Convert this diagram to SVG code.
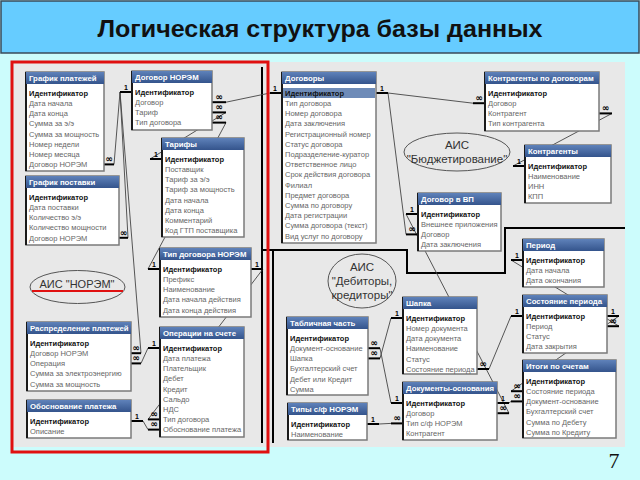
<svg xmlns="http://www.w3.org/2000/svg" width="640" height="480" viewBox="0 0 640 480">
<defs>
<linearGradient id="hg" x1="0" y1="0" x2="0" y2="1"><stop offset="0" stop-color="#5f82ba"/><stop offset="1" stop-color="#34548c"/></linearGradient>
</defs>
<style>
.box{fill:#fff;stroke:#7a7a7a;stroke-width:1.5}
.edge{stroke:#1a1a1a;stroke-width:2}
.hdr{fill:url(#hg)}
.ht{font-family:"Liberation Sans",Arial,sans-serif;font-weight:bold;font-size:7.8px;fill:#fff}
.key{font-family:"Liberation Sans",Arial,sans-serif;font-weight:bold;font-size:7.5px;fill:#111}
.fld{font-family:"Liberation Sans",Arial,sans-serif;font-size:7.5px;fill:#666}
.stub{stroke:#000;stroke-width:2}
.rel{stroke:#444;stroke-width:0.9;fill:none}
.route{stroke:#000;stroke-width:2;fill:none}
.one{font-family:"Liberation Sans",Arial,sans-serif;font-weight:bold;font-size:7px;fill:#000;text-anchor:middle}
.many{font-family:"DejaVu Sans",sans-serif;font-weight:bold;font-size:9px;fill:#000;text-anchor:middle}
.ell{fill:none;stroke:#555;stroke-width:1}
.et{font-family:"Liberation Sans",Arial,sans-serif;font-size:11.5px;fill:#333;text-anchor:middle}
</style>
<rect x="0" y="0" width="640" height="480" fill="#ccfcfc"/>
<rect x="1" y="1" width="638" height="52" fill="#66ccff" stroke="#3a4a5a" stroke-width="1.5"/>
<text x="320" y="37" text-anchor="middle" font-family="Liberation Sans, Arial, sans-serif" font-weight="bold" font-size="24" textLength="445" lengthAdjust="spacingAndGlyphs" fill="#111">Логическая структура базы данных</text>
<rect x="12" y="62" width="613" height="385" fill="#e8e8e8"/>

<g id="connectors">
<path class="route" d="M262,67 V443 M262,250 H407 V273 H505 V228 H625 M273,250 V443"/>
<line class="rel" x1="114" y1="164.4" x2="120" y2="92"/>
<line class="rel" x1="128" y1="237.8" x2="120" y2="92"/>
<line class="rel" x1="141" y1="353.2" x2="120" y2="92"/>
<line class="rel" x1="226" y1="102.2" x2="270" y2="93"/>
<line class="rel" x1="226" y1="112.4" x2="150" y2="159"/>
<line class="rel" x1="226" y1="122.6" x2="148" y2="269"/>
<line class="rel" x1="263" y1="269" x2="148" y2="419.4"/>
<line class="rel" x1="143" y1="421" x2="148" y2="429.6"/>
<line class="rel" x1="141" y1="363.4" x2="148" y2="348"/>
<line class="rel" x1="388" y1="93" x2="473" y2="103.2"/>
<line class="rel" x1="388" y1="93" x2="406" y2="234.4"/>
<line class="rel" x1="612" y1="113.4" x2="513" y2="166"/>
<line class="rel" x1="406" y1="214" x2="509" y2="413.2"/>
<line class="rel" x1="509" y1="403" x2="511" y2="401.4"/>
<line class="rel" x1="511" y1="260" x2="619" y2="326.2"/>
<line class="rel" x1="619" y1="316" x2="511" y2="391.2"/>
<line class="rel" x1="511" y1="316" x2="489" y2="369"/>
<line class="rel" x1="391" y1="318" x2="380" y2="358.4"/>
<line class="rel" x1="391" y1="403" x2="380" y2="348.2"/>
<line class="rel" x1="379" y1="424" x2="391" y2="423.4"/>
<line class="stub" x1="120" y1="92" x2="132" y2="92"/><text class="one" x="126" y="89.5">1</text>
<line class="stub" x1="104" y1="164.4" x2="114" y2="164.4"/><text class="many" x="109" y="162">∞</text>
<line class="stub" x1="119" y1="237.8" x2="128" y2="237.8"/><text class="many" x="123.5" y="235.5">∞</text>
<line class="stub" x1="131" y1="353.2" x2="141" y2="353.2"/><text class="many" x="136" y="351">∞</text>
<line class="stub" x1="131" y1="363.4" x2="141" y2="363.4"/><text class="many" x="136" y="361">∞</text>
<line class="stub" x1="212" y1="102.2" x2="226" y2="102.2"/><text class="many" x="219" y="100">∞</text>
<line class="stub" x1="212" y1="112.4" x2="226" y2="112.4"/><text class="many" x="219" y="110">∞</text>
<line class="stub" x1="212" y1="122.6" x2="226" y2="122.6"/><text class="many" x="219" y="120">∞</text>
<line class="stub" x1="270" y1="93" x2="282" y2="93"/><text class="one" x="275" y="90.5">1</text>
<line class="stub" x1="150" y1="159" x2="162" y2="159"/><text class="one" x="156" y="156.5">1</text>
<line class="stub" x1="148" y1="269" x2="160" y2="269"/><text class="one" x="154" y="266.5">1</text>
<line class="stub" x1="251" y1="269" x2="263" y2="269"/><text class="one" x="257" y="266.5">1</text>
<line class="stub" x1="148" y1="348" x2="160" y2="348"/><text class="one" x="154" y="345.5">1</text>
<line class="stub" x1="148" y1="419.4" x2="160" y2="419.4"/><text class="many" x="154" y="417">∞</text>
<line class="stub" x1="148" y1="429.6" x2="160" y2="429.6"/><text class="many" x="154" y="427.2">∞</text>
<line class="stub" x1="131" y1="421" x2="143" y2="421"/><text class="one" x="137" y="418.5">1</text>
<line class="stub" x1="376" y1="93" x2="388" y2="93"/><text class="one" x="382" y="90.5">1</text>
<line class="stub" x1="473" y1="103.2" x2="485" y2="103.2"/><text class="many" x="479" y="100.8">∞</text>
<line class="stub" x1="599" y1="113.4" x2="612" y2="113.4"/><text class="many" x="605.5" y="111">∞</text>
<line class="stub" x1="513" y1="166" x2="525" y2="166"/><text class="one" x="519" y="163.5">1</text>
<line class="stub" x1="406" y1="214" x2="418" y2="214"/><text class="one" x="412" y="211.5">1</text>
<line class="stub" x1="406" y1="234.4" x2="418" y2="234.4"/><text class="many" x="412" y="232">∞</text>
<line class="stub" x1="497" y1="403" x2="509" y2="403"/><text class="one" x="503" y="400.5">1</text>
<line class="stub" x1="497" y1="413.2" x2="509" y2="413.2"/><text class="many" x="503" y="410.8">∞</text>
<line class="stub" x1="391" y1="403" x2="403" y2="403"/><text class="one" x="397" y="400.5">1</text>
<line class="stub" x1="391" y1="423.4" x2="403" y2="423.4"/><text class="many" x="397" y="421">∞</text>
<line class="stub" x1="511" y1="391.2" x2="523" y2="391.2"/><text class="many" x="517" y="388.8">∞</text>
<line class="stub" x1="511" y1="401.4" x2="523" y2="401.4"/><text class="many" x="517" y="399">∞</text>
<line class="stub" x1="511" y1="260" x2="523" y2="260"/><text class="one" x="517" y="257.5">1</text>
<line class="stub" x1="607" y1="316" x2="619" y2="316"/><text class="one" x="613" y="313.5">1</text>
<line class="stub" x1="607" y1="326.2" x2="619" y2="326.2"/><text class="many" x="613" y="323.8">∞</text>
<line class="stub" x1="511" y1="316" x2="523" y2="316"/><text class="one" x="517" y="313.5">1</text>
<line class="stub" x1="391" y1="318" x2="403" y2="318"/><text class="one" x="397" y="315.5">1</text>
<line class="stub" x1="477" y1="369" x2="489" y2="369"/><text class="many" x="483" y="366.6">∞</text>
<line class="stub" x1="368" y1="348.2" x2="380" y2="348.2"/><text class="many" x="374" y="345.8">∞</text>
<line class="stub" x1="368" y1="358.4" x2="380" y2="358.4"/><text class="many" x="374" y="356">∞</text>
<line class="stub" x1="367" y1="424" x2="379" y2="424"/><text class="one" x="373" y="421.5">1</text>
</g>

<g id="t-grafik-platezhey">
<rect class="box" x="26" y="72" width="78" height="99"/><line class="edge" x1="26" y1="72" x2="26" y2="171"/>
<rect class="hdr" x="26" y="72" width="78" height="12"/>
<text class="ht" x="29" y="81">График платежей</text>
<text class="key" x="29" y="95.7">Идентификатор</text>
<text class="fld" x="29" y="105.9">Дата начала</text>
<text class="fld" x="29" y="116.1">Дата конца</text>
<text class="fld" x="29" y="126.3">Сумма за э/э</text>
<text class="fld" x="29" y="136.5">Сумма за мощность</text>
<text class="fld" x="29" y="146.7">Номер недели</text>
<text class="fld" x="29" y="156.9">Номер месяца</text>
<text class="fld" x="29" y="167.1">Договор НОРЭМ</text>
</g>
<g id="t-grafik-postavki">
<rect class="box" x="26" y="176" width="93" height="69"/><line class="edge" x1="26" y1="176" x2="26" y2="245"/>
<rect class="hdr" x="26" y="176" width="93" height="12"/>
<text class="ht" x="29" y="185">График поставки</text>
<text class="key" x="29" y="199.7">Идентификатор</text>
<text class="fld" x="29" y="209.9">Дата поставки</text>
<text class="fld" x="29" y="220.1">Количество э/э</text>
<text class="fld" x="29" y="230.3">Количество мощности</text>
<text class="fld" x="29" y="240.5">Договор НОРЭМ</text>
</g>
<g id="t-raspredelenie">
<rect class="box" x="27" y="322" width="104" height="69"/><line class="edge" x1="27" y1="322" x2="27" y2="391"/>
<rect class="hdr" x="27" y="322" width="104" height="12"/>
<text class="ht" x="30" y="331">Распределение платежей</text>
<text class="key" x="30" y="345.7">Идентификатор</text>
<text class="fld" x="30" y="355.9">Договор НОРЭМ</text>
<text class="fld" x="30" y="366.1">Операция</text>
<text class="fld" x="30" y="376.3">Сумма за электроэнергию</text>
<text class="fld" x="30" y="386.5">Сумма за мощность</text>
</g>
<g id="t-obosnovanie">
<rect class="box" x="27" y="400" width="104" height="38"/><line class="edge" x1="27" y1="400" x2="27" y2="438"/>
<rect class="hdr" x="27" y="400" width="104" height="12"/>
<text class="ht" x="30" y="409">Обоснование платежа</text>
<text class="key" x="30" y="423.7">Идентификатор</text>
<text class="fld" x="30" y="433.9">Описание</text>
</g>
<g id="t-dogovor-norem">
<rect class="box" x="132" y="71" width="80" height="59"/><line class="edge" x1="132" y1="71" x2="132" y2="130"/>
<rect class="hdr" x="132" y="71" width="80" height="12"/>
<text class="ht" x="135" y="80">Договор НОРЭМ</text>
<text class="key" x="135" y="94.7">Идентификатор</text>
<text class="fld" x="135" y="104.9">Договор</text>
<text class="fld" x="135" y="115.1">Тариф</text>
<text class="fld" x="135" y="125.3">Тип договора</text>
</g>
<g id="t-tarify">
<rect class="box" x="162" y="138" width="82" height="99"/><line class="edge" x1="162" y1="138" x2="162" y2="237"/>
<rect class="hdr" x="162" y="138" width="82" height="12"/>
<text class="ht" x="165" y="147">Тарифы</text>
<text class="key" x="165" y="161.7">Идентификатор</text>
<text class="fld" x="165" y="171.9">Поставщик</text>
<text class="fld" x="165" y="182.1">Тариф за э/э</text>
<text class="fld" x="165" y="192.3">Тариф за мощность</text>
<text class="fld" x="165" y="202.5">Дата начала</text>
<text class="fld" x="165" y="212.7">Дата конца</text>
<text class="fld" x="165" y="222.9">Комментарий</text>
<text class="fld" x="165" y="233.1">Код ГТП поставщика</text>
</g>
<g id="t-tip-dogovora">
<rect class="box" x="160" y="248" width="91" height="69"/><line class="edge" x1="160" y1="248" x2="160" y2="317"/>
<rect class="hdr" x="160" y="248" width="91" height="12"/>
<text class="ht" x="163" y="257">Тип договора НОРЭМ</text>
<text class="key" x="163" y="271.7">Идентификатор</text>
<text class="fld" x="163" y="281.9">Префикс</text>
<text class="fld" x="163" y="292.1">Наименование</text>
<text class="fld" x="163" y="302.3">Дата начала действия</text>
<text class="fld" x="163" y="312.5">Дата конца действия</text>
</g>
<g id="t-operacii">
<rect class="box" x="160" y="327" width="84" height="110"/><line class="edge" x1="160" y1="327" x2="160" y2="437"/>
<rect class="hdr" x="160" y="327" width="84" height="12"/>
<text class="ht" x="163" y="336">Операции на счете</text>
<text class="key" x="163" y="350.7">Идентификатор</text>
<text class="fld" x="163" y="360.9">Дата платежа</text>
<text class="fld" x="163" y="371.1">Плательщик</text>
<text class="fld" x="163" y="381.3">Дебет</text>
<text class="fld" x="163" y="391.5">Кредит</text>
<text class="fld" x="163" y="401.7">Сальдо</text>
<text class="fld" x="163" y="411.9">НДС</text>
<text class="fld" x="163" y="422.1">Тип договора</text>
<text class="fld" x="163" y="432.3">Обоснование платежа</text>
</g>
<g id="t-dogovory">
<rect class="box" x="282" y="72" width="94" height="171"/><line class="edge" x1="282" y1="72" x2="282" y2="243"/>
<rect class="hdr" x="282" y="72" width="94" height="12"/>
<text class="ht" x="285" y="81">Договоры</text>
<rect x="283" y="88" width="92" height="10" fill="#6e8bb8"/>
<text class="key" x="285" y="95.7">Идентификатор</text>
<text class="fld" x="285" y="105.9">Тип договора</text>
<text class="fld" x="285" y="116.1">Номер договора</text>
<text class="fld" x="285" y="126.3">Дата заключения</text>
<text class="fld" x="285" y="136.5">Регистрационный номер</text>
<text class="fld" x="285" y="146.7">Статус договора</text>
<text class="fld" x="285" y="156.9">Подразделение-куратор</text>
<text class="fld" x="285" y="167.1">Ответственное лицо</text>
<text class="fld" x="285" y="177.3">Срок действия договора</text>
<text class="fld" x="285" y="187.5">Филиал</text>
<text class="fld" x="285" y="197.7">Предмет договора</text>
<text class="fld" x="285" y="207.9">Сумма по договору</text>
<text class="fld" x="285" y="218.1">Дата регистрации</text>
<text class="fld" x="285" y="228.3">Сумма договора (текст)</text>
<text class="fld" x="285" y="238.5">Вид услуг по договору</text>
</g>
<g id="t-tablichnaya">
<rect class="box" x="287" y="317" width="81" height="78"/><line class="edge" x1="287" y1="317" x2="287" y2="395"/>
<rect class="hdr" x="287" y="317" width="81" height="12"/>
<text class="ht" x="290" y="326">Табличная часть</text>
<text class="key" x="290" y="340.7">Идентификатор</text>
<text class="fld" x="290" y="350.9">Документ-основание</text>
<text class="fld" x="290" y="361.1">Шапка</text>
<text class="fld" x="290" y="371.3">Бухгалтерский счет</text>
<text class="fld" x="290" y="381.5">Дебет или Кредит</text>
<text class="fld" x="290" y="391.7">Сумма</text>
</g>
<g id="t-tipy-sf">
<rect class="box" x="288" y="403" width="79" height="37"/><line class="edge" x1="288" y1="403" x2="288" y2="440"/>
<rect class="hdr" x="288" y="403" width="79" height="12"/>
<text class="ht" x="291" y="412">Типы с/ф НОРЭМ</text>
<text class="key" x="291" y="426.7">Идентификатор</text>
<text class="fld" x="291" y="436.9">Наименование</text>
</g>
<g id="t-kontragenty-po-dogovoram">
<rect class="box" x="485" y="72" width="114" height="59"/><line class="edge" x1="485" y1="72" x2="485" y2="131"/>
<rect class="hdr" x="485" y="72" width="114" height="12"/>
<text class="ht" x="488" y="81">Контрагенты по договорам</text>
<text class="key" x="488" y="95.7">Идентификатор</text>
<text class="fld" x="488" y="105.9">Договор</text>
<text class="fld" x="488" y="116.1">Контрагент</text>
<text class="fld" x="488" y="126.3">Тип контрагента</text>
</g>
<g id="t-kontragenty">
<rect class="box" x="525" y="145" width="86" height="58"/><line class="edge" x1="525" y1="145" x2="525" y2="203"/>
<rect class="hdr" x="525" y="145" width="86" height="12"/>
<text class="ht" x="528" y="154">Контрагенты</text>
<text class="key" x="528" y="168.7">Идентификатор</text>
<text class="fld" x="528" y="178.9">Наименование</text>
<text class="fld" x="528" y="189.1">ИНН</text>
<text class="fld" x="528" y="199.3">КПП</text>
</g>
<g id="t-dogovor-vp">
<rect class="box" x="418" y="193" width="83" height="58"/><line class="edge" x1="418" y1="193" x2="418" y2="251"/>
<rect class="hdr" x="418" y="193" width="83" height="12"/>
<text class="ht" x="421" y="202">Договор в ВП</text>
<text class="key" x="421" y="216.7">Идентификатор</text>
<text class="fld" x="421" y="226.9">Внешнее приложения</text>
<text class="fld" x="421" y="237.1">Договор</text>
<text class="fld" x="421" y="247.3">Дата заключения</text>
</g>
<g id="t-period">
<rect class="box" x="523" y="239" width="81" height="48"/><line class="edge" x1="523" y1="239" x2="523" y2="287"/>
<rect class="hdr" x="523" y="239" width="81" height="12"/>
<text class="ht" x="526" y="248">Период</text>
<text class="key" x="526" y="262.7">Идентификатор</text>
<text class="fld" x="526" y="272.9">Дата начала</text>
<text class="fld" x="526" y="283.1">Дата окончания</text>
</g>
<g id="t-shapka">
<rect class="box" x="403" y="297" width="74" height="77"/><line class="edge" x1="403" y1="297" x2="403" y2="374"/>
<rect class="hdr" x="403" y="297" width="74" height="12"/>
<text class="ht" x="406" y="306">Шапка</text>
<text class="key" x="406" y="320.7">Идентификатор</text>
<text class="fld" x="406" y="330.9">Номер документа</text>
<text class="fld" x="406" y="341.1">Дата документа</text>
<text class="fld" x="406" y="351.3">Наименование</text>
<text class="fld" x="406" y="361.5">Статус</text>
<text class="fld" x="406" y="371.7">Состояние периода</text>
</g>
<g id="t-sostoyanie">
<rect class="box" x="523" y="295" width="84" height="58"/><line class="edge" x1="523" y1="295" x2="523" y2="353"/>
<rect class="hdr" x="523" y="295" width="84" height="12"/>
<text class="ht" x="526" y="304">Состояние периода</text>
<text class="key" x="526" y="318.7">Идентификатор</text>
<text class="fld" x="526" y="328.9">Период</text>
<text class="fld" x="526" y="339.1">Статус</text>
<text class="fld" x="526" y="349.3">Дата закрытия</text>
</g>
<g id="t-dokumenty">
<rect class="box" x="403" y="382" width="94" height="58"/><line class="edge" x1="403" y1="382" x2="403" y2="440"/>
<rect class="hdr" x="403" y="382" width="94" height="12"/>
<text class="ht" x="406" y="391">Документы-основания</text>
<text class="key" x="406" y="405.7">Идентификатор</text>
<text class="fld" x="406" y="415.9">Договор</text>
<text class="fld" x="406" y="426.1">Тип с/ф НОРЭМ</text>
<text class="fld" x="406" y="436.3">Контрагент</text>
</g>
<g id="t-itogi">
<rect class="box" x="523" y="360" width="93" height="78"/><line class="edge" x1="523" y1="360" x2="523" y2="438"/>
<rect class="hdr" x="523" y="360" width="93" height="12"/>
<text class="ht" x="526" y="369">Итоги по счетам</text>
<text class="key" x="526" y="383.7">Идентификатор</text>
<text class="fld" x="526" y="393.9">Состояние периода</text>
<text class="fld" x="526" y="404.1">Документ-основание</text>
<text class="fld" x="526" y="414.3">Бухгалтерский счет</text>
<text class="fld" x="526" y="424.5">Сумма по Дебету</text>
<text class="fld" x="526" y="434.7">Сумма по Кредиту</text>
</g>

<g id="ais-norem">
<ellipse class="ell" cx="77.5" cy="287" rx="47.5" ry="16.5"/>
<text class="et" x="77" y="288" style="font-size:11px">АИС "НОРЭМ"</text>
<line x1="32" y1="291" x2="123" y2="291" stroke="#e01010" stroke-width="2"/>
</g>
<g id="ais-budget">
<ellipse class="ell" cx="457" cy="152" rx="53" ry="19"/>
<text class="et" x="457" y="149">АИС</text>
<text class="et" x="457" y="163">"Бюджетирование"</text>
</g>
<g id="ais-debitory">
<ellipse class="ell" cx="362" cy="281" rx="34" ry="27"/>
<text class="et" x="362" y="270.5">АИС</text>
<text class="et" x="362" y="284.5">"Дебиторы,</text>
<text class="et" x="362" y="298.5">кредиторы"</text>
</g>

<rect x="12" y="62" width="256" height="390" fill="none" stroke="#e01010" stroke-width="3"/>
<text x="614" y="468" text-anchor="middle" font-family="Liberation Serif, 'Times New Roman', serif" font-size="22" fill="#111">7</text>
</svg>
